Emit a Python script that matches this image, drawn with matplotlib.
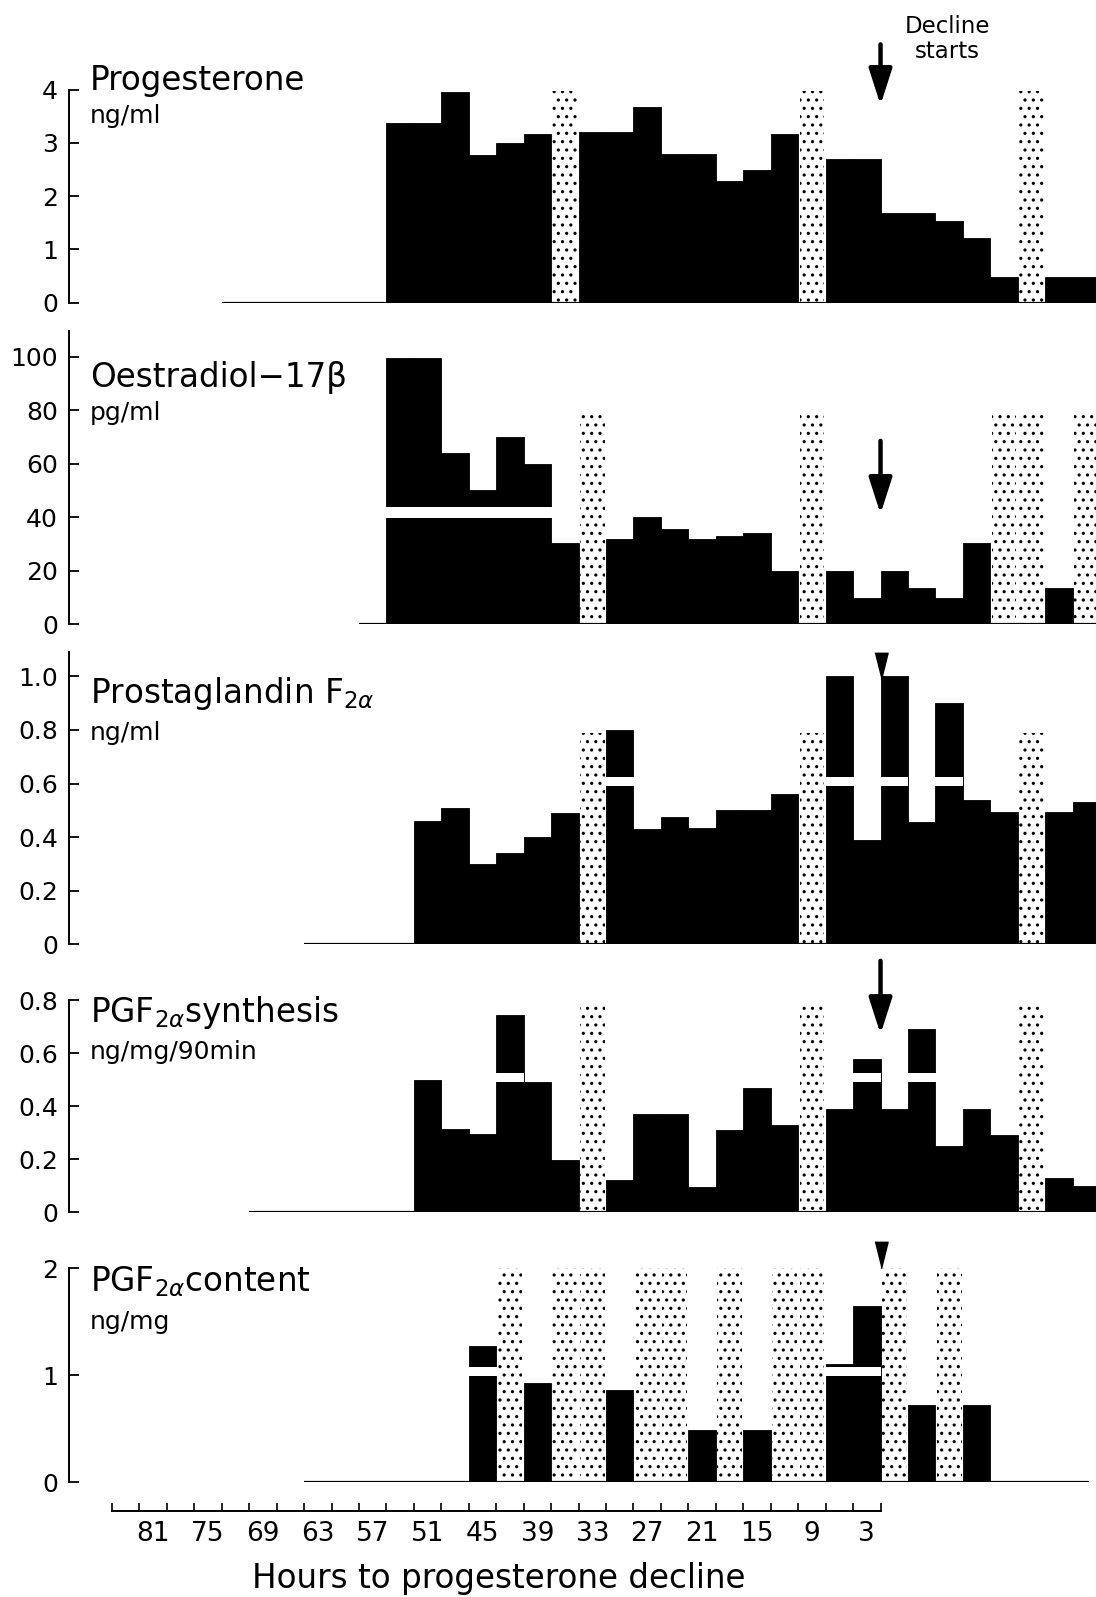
import matplotlib.pyplot as plt
import numpy as np

plt.rcParams.update({
    "font.family": ["DejaVu Sans"],
    "mathtext.fontset": "dejavusans",
    "hatch.linewidth": 1.1,
    "axes.linewidth": 1.4,
})

W, H = 1096, 1597

# bin centres = hours to progesterone decline (3 h bins)
prog_hours = [54, 51, 48, 45, 42, 39, 33, 30, 27, 24, 21, 18, 15, 12, 6, 3, 0, -3, -6, -9, -12, -18, -21]
prog_vals = [3.37, 3.37, 3.95, 2.78, 3.0, 3.17, 3.2, 3.2, 3.67, 2.79, 2.79, 2.28, 2.49, 3.17,
             2.7, 2.7, 1.69, 1.69, 1.53, 1.22, 0.47, 0.48, 0.48]
prog_stipple = [36, 9, -15]

oest_hours = [54, 51, 48, 45, 42, 39, 36, 30, 27, 24, 21, 18, 15, 12, 6, 3, 0, -3, -6, -9, -18]
oest_vals = [99.5, 99.5, 64, 50, 70, 60, 30.5, 32, 40, 35.5, 32, 33, 34, 20, 20, 9.8, 20, 13.5, 10, 30.5, 13.5]
oest_stipple = [33, 9, -12, -15, -21]
oest_breaks = [([54, 51, 48, 45, 42, 39], 39.7, 44.0)]

pgf_hours = [51, 48, 45, 42, 39, 36, 30, 27, 24, 21, 18, 15, 12, 6, 3, 0, -3, -6, -9, -12, -18, -21]
pgf_vals = [0.46, 0.51, 0.30, 0.34, 0.40, 0.49, 0.80, 0.43, 0.475, 0.435, 0.50, 0.50, 0.56,
            1.0, 0.39, 1.0, 0.455, 0.90, 0.54, 0.495, 0.495, 0.53]
pgf_stipple = [33, 9, -15]
pgf_breaks = [([30, 6, 0, -6], 0.59, 0.625)]

syn_hours = [51, 48, 45, 42, 39, 36, 30, 27, 24, 21, 18, 15, 12, 6, 3, 0, -3, -6, -9, -12, -18, -21]
syn_vals = [0.50, 0.315, 0.295, 0.745, 0.49, 0.195, 0.12, 0.37, 0.37, 0.093, 0.31, 0.47, 0.33,
            0.39, 0.58, 0.39, 0.69, 0.25, 0.39, 0.29, 0.128, 0.097]
syn_stipple = [33, 9, -15]
syn_breaks = [([42, 3, -3], 0.49, 0.525)]

cont_hours = [45, 39, 30, 21, 15, 6, 3, -3, -9]
cont_vals = [1.27, 0.93, 0.86, 0.49, 0.49, 1.10, 1.65, 0.72, 0.72]
cont_stipple = [42, 36, 33, 27, 24, 18, 12, 9, 0, -6]
cont_breaks = [([45, 6, 3], 0.99, 1.075)]

x_labels = [81, 75, 69, 63, 57, 51, 45, 39, 33, 27, 21, 15, 9, 3]

panels = [
    dict(hours=prog_hours, vals=prog_vals, stipple=prog_stipple, stip_top=3.97, breaks=[],
         zero=(73.5, -22.5), yticks=[0, 1, 2, 3, 4], ylabels=["0", "1", "2", "3", "4"],
         spine_top=4, px=(302.5, 89.6, 10),
         title="Progesterone", unit="ng/ml", tpos=(90, 89.6, 123)),
    dict(hours=oest_hours, vals=oest_vals, stipple=oest_stipple, stip_top=80, breaks=oest_breaks,
         zero=(58.5, -22.5), yticks=[0, 20, 40, 60, 80, 100],
         ylabels=["0", "20", "40", "60", "80", "100"],
         spine_top=109.5, px=(624.4, 356.5, 325),
         title="Oestradiol\u221217\u03b2", unit="pg/ml", tpos=(90, 387, 420)),
    dict(hours=pgf_hours, vals=pgf_vals, stipple=pgf_stipple, stip_top=0.79, breaks=pgf_breaks,
         zero=(64.5, -22.5), yticks=[0, 0.2, 0.4, 0.6, 0.8, 1.0],
         ylabels=["0", "0.2", "0.4", "0.6", "0.8", "1.0"],
         spine_top=1.09, px=(944.2, 676.4, 640),
         title=r"Prostaglandin F$_{2\alpha}$", unit="ng/ml", tpos=(90, 703, 740)),
    dict(hours=syn_hours, vals=syn_vals, stipple=syn_stipple, stip_top=0.79, breaks=syn_breaks,
         zero=(70.5, -22.5), yticks=[0, 0.2, 0.4, 0.6, 0.8],
         ylabels=["0", "0.2", "0.4", "0.6", "0.8"],
         spine_top=0.8, px=(1212.1, 1000.3, 950),
         title=r"PGF$_{2\alpha}$synthesis", unit="ng/mg/90min", tpos=(90, 1022, 1059)),
    dict(hours=cont_hours, vals=cont_vals, stipple=cont_stipple, stip_top=2.0, breaks=cont_breaks,
         zero=(64.5, -21.3), yticks=[0, 1, 2], ylabels=["0", "1", "2"],
         spine_top=2, px=(1482.1, 1268.2, 1220),
         title=r"PGF$_{2\alpha}$content", unit="ng/mg", tpos=(90, 1291, 1329)),
]

fig = plt.figure(figsize=(W / 100, H / 100), dpi=100)
fig.patch.set_facecolor("white")

X0, X1 = 69, 1096
H3_PX, PX_PER_H = 866.8, 9.15
xlim = (3 + (H3_PX - X0) / PX_PER_H, 3 - (X1 - H3_PX) / PX_PER_H)

axes = []
for p in panels:
    zero_px, tick_px, top_px = p["px"]
    ax = fig.add_axes([X0 / W, 1 - zero_px / H, (X1 - X0) / W, (zero_px - top_px) / H])
    ax.set_facecolor("none")
    ytop = p["yticks"][-1] * (zero_px - top_px) / (zero_px - tick_px)
    ax.set_xlim(*xlim)
    ax.set_ylim(0, ytop)

    # stippled columns (no sample)
    ax.bar(p["stipple"], p["stip_top"], width=2.7, color="white", edgecolor="black",
           linewidth=0, hatch="..", zorder=1)
    ax.bar(p["hours"], p["vals"], width=3, color="black", edgecolor="black",
           linewidth=0.6, zorder=2)
    for centres, lo, hi in p["breaks"]:
        ax.bar(centres, hi - lo, bottom=lo, width=3.1, color="white", linewidth=0, zorder=3)
    ax.plot(list(p["zero"]), [0, 0], color="black", lw=1.6, zorder=4, solid_capstyle="butt")

    for s in ["top", "right", "bottom"]:
        ax.spines[s].set_visible(False)
    ax.spines["left"].set_bounds(0, p["spine_top"])
    ax.set_yticks(p["yticks"])
    ax.set_yticklabels(p["ylabels"])
    ax.tick_params(axis="y", direction="in", length=7, width=1.3, labelsize=18, pad=8)
    ax.set_xticks([])

    tx, ty, uy = p["tpos"]
    fig.text(tx / W, 1 - ty / H, p["title"], fontsize=23.5, va="baseline", ha="left")
    fig.text(tx / W, 1 - uy / H, p["unit"], fontsize=18, va="baseline", ha="left")
    axes.append(ax)

ax1, ax2, ax3, ax4, ax5 = axes

# bottom time axis on the last panel
ax5.spines["bottom"].set_visible(True)
ax5.spines["bottom"].set_position(("outward", 21))
ax5.spines["bottom"].set_bounds(85.5, 1.5)
ax5.set_xticks(x_labels)
ax5.set_xticklabels([str(v) for v in x_labels])
ax5.set_xticks(np.arange(85.5, 1.0, -3), minor=True)
ax5.tick_params(axis="x", which="major", length=0, labelsize=19, pad=7)
ax5.tick_params(axis="x", which="minor", direction="in", length=6, width=1.2)
fig.text(499 / W, 1 - 1588 / H, "Hours to progesterone decline", fontsize=23.5,
         ha="center", va="baseline")

arrow = dict(arrowstyle="-|>,head_length=1.0,head_width=0.32", color="black", lw=3.2,
             mutation_scale=22, shrinkA=0, shrinkB=0)
ax1.annotate("", xy=(1.5, 3.71), xytext=(1.5, 4.85), arrowprops=arrow)
ax1.text(-5.8, 4.95, "Decline\nstarts", fontsize=16.5, ha="center", va="center",
         linespacing=1.1, clip_on=False)
ax2.annotate("", xy=(1.5, 41.2), xytext=(1.5, 68.5), arrowprops=arrow)
ax4.annotate("", xy=(1.5, 0.672), xytext=(1.5, 0.949), arrowprops=arrow)

tri = [(-0.5, 1), (0.5, 1), (0, -1)]
ax3.plot([1.5], [1.04], marker=tri, ms=19, color="black", clip_on=False, zorder=5)
ax5.plot([1.5], [2.12], marker=tri, ms=19, color="black", clip_on=False, zorder=5)

fig.savefig("out.png", dpi=100, facecolor="white")
